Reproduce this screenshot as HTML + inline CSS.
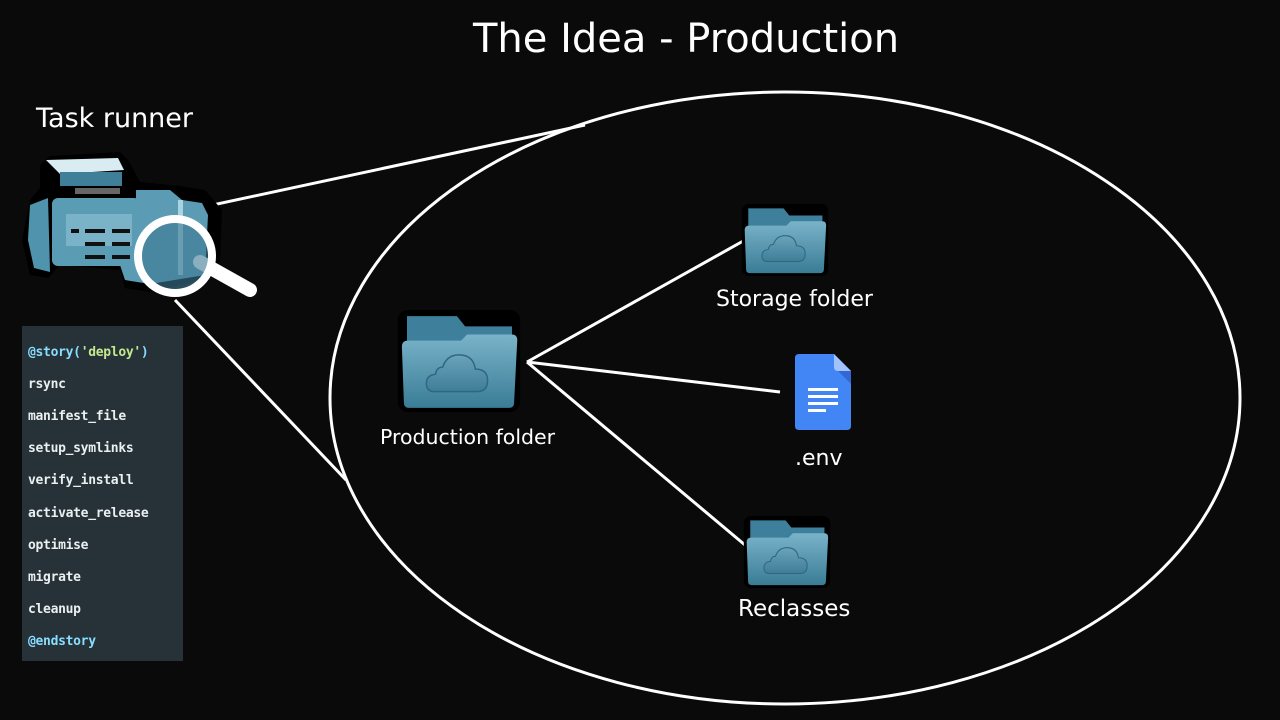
<!DOCTYPE html>
<html><head><meta charset="utf-8"><style>
html,body{margin:0;padding:0;background:#0a0a0a;width:1280px;height:720px;overflow:hidden}
body{position:relative;font-family:"DejaVu Sans","Liberation Sans",sans-serif;color:#fff}
.t{position:absolute;white-space:nowrap}
.code{position:absolute;left:22px;top:326px;width:161px;height:335px;background:#263238;font-family:"DejaVu Sans Mono","Liberation Mono",monospace;font-size:13px;color:#eceff1;font-weight:bold}
.code div{position:absolute;left:6px;letter-spacing:-0.3px}
</style></head><body>
<svg width="1280" height="720" style="position:absolute;left:0;top:0">
<defs>
<linearGradient id="fg" x1="0" y1="0" x2="0" y2="1"><stop offset="0" stop-color="#79b3c9"/><stop offset="1" stop-color="#3a7c96"/></linearGradient>
<linearGradient id="cg" x1="0" y1="0" x2="0" y2="1"><stop offset="0" stop-color="#6aa3bb"/><stop offset="1" stop-color="#3f7d97"/></linearGradient>
<symbol id="folder" viewBox="0 0 120 100">
<rect x="0" y="0" width="120" height="100" rx="10" fill="#000"/>
<path d="M9,6 H58 L66,16 H112 V42 H9 Z" fill="#3e7f9b"/>
<path d="M4,36 Q4,30 10,30 H62 L68,24 H112 Q118,24 117,32 L114,91 Q114,96 109,96 H11 Q6,96 6,91 Z" fill="url(#fg)"/>
<path d="M36,80 Q28,80 28,72 Q28,64 37,63 Q38,56 44,56 Q48,44 60,44 Q74,44 76,58 Q88,58 88,69 Q88,80 78,80 Z" fill="url(#cg)" stroke="#2f6880" stroke-width="1.5"/>
</symbol>
</defs>
<ellipse cx="785" cy="398" rx="455" ry="306" fill="none" stroke="#fff" stroke-width="3"/>
<line x1="180" y1="212" x2="585" y2="125" stroke="#fff" stroke-width="3"/>
<line x1="175" y1="300" x2="346" y2="480" stroke="#fff" stroke-width="3"/>
<line x1="527" y1="362" x2="745" y2="240" stroke="#fff" stroke-width="3"/>
<line x1="527" y1="362" x2="780" y2="392" stroke="#fff" stroke-width="3"/>
<line x1="527" y1="362" x2="745" y2="545" stroke="#fff" stroke-width="3"/>
<use href="#folder" x="396" y="310" width="126" height="102"/>
<use href="#folder" x="741" y="204" width="88" height="72"/>
<use href="#folder" x="743" y="516" width="88" height="72"/>
<path d="M799,354 H834 L851,371 V426 Q851,430 847,430 H799 Q795,430 795,426 V358 Q795,354 799,354 Z" fill="#4285f4"/>
<path d="M834,354 L851,371 H838 Q834,371 834,367 Z" fill="#a1c2fa"/>
<path d="M838,371 L851,384 V371 Z" fill="#3367d6"/>
<rect x="808" y="388" width="30" height="3" fill="#fff"/><rect x="808" y="395" width="30" height="3" fill="#fff"/><rect x="808" y="402" width="30" height="3" fill="#fff"/><rect x="808" y="409" width="18" height="3" fill="#fff"/>
<g>
<path d="M40,188 L30,200 L22,240 L30,275 L48,278 L60,265 L120,270 L125,288 L150,292 L200,280 L220,262 L222,210 L205,190 L180,186 L140,182 L128,160 L120,152 L50,156 L40,165 Z" fill="#000"/>
<path d="M46,160 L118,158 L124,170 L60,174 Z" fill="#d9ecf2"/>
<rect x="60" y="172" width="62" height="14" fill="#3f7f9a"/>
<rect x="75" y="188" width="45" height="6" fill="#666"/>
<path d="M30,205 L48,198 L50,272 L34,268 L28,240 Z" fill="#4f93ac"/>
<rect x="52" y="198" width="88" height="68" rx="6" fill="#5a9cb4"/>
<rect x="66" y="214" width="66" height="32" fill="#8fc3d4" opacity=".6"/>
<g fill="#111"><rect x="71" y="229" width="8" height="4"/><rect x="85" y="229" width="20" height="4"/><rect x="112" y="229" width="18" height="4"/><rect x="85" y="242" width="20" height="4"/><rect x="112" y="242" width="18" height="4"/><rect x="85" y="255" width="20" height="4"/><rect x="112" y="255" width="18" height="4"/></g>
<path d="M136,190 L170,190 L182,200 L202,203 L208,215 L205,275 L150,284 L125,280 L120,265 L136,262 Z" fill="#5b9cb4"/>
<rect x="178" y="200" width="5" height="75" fill="#a8d3e0"/>
<line x1="200" y1="262" x2="250" y2="290" stroke="#fff" stroke-width="14" stroke-linecap="round"/>
<circle cx="175" cy="256" r="37" fill="#3d7a93" fill-opacity=".6" stroke="#fff" stroke-width="8"/>
</g>
</svg>
<div class="t" style="left:473px;top:16px;font-size:40px">The Idea - Production</div>
<div class="t" style="left:36px;top:103px;font-size:27px">Task runner</div>
<div class="t" style="left:380px;top:425px;font-size:20.5px">Production folder</div>
<div class="t" style="left:716px;top:287px;font-size:22px">Storage folder</div>
<div class="t" style="left:795px;top:446px;font-size:22px">.env</div>
<div class="t" style="left:738px;top:596px;font-size:23px">Reclasses</div>
<div class="code">
<div style="top:19px"><span style="color:#89ddff">@story(</span><span style="color:#c3e88d">'deploy'</span><span style="color:#89ddff">)</span></div>
<div style="top:51px">rsync</div>
<div style="top:83px">manifest_file</div>
<div style="top:115px">setup_symlinks</div>
<div style="top:147px">verify_install</div>
<div style="top:180px">activate_release</div>
<div style="top:212px">optimise</div>
<div style="top:244px">migrate</div>
<div style="top:276px">cleanup</div>
<div style="top:308px;color:#89ddff">@endstory</div>
</div>
</body></html>
